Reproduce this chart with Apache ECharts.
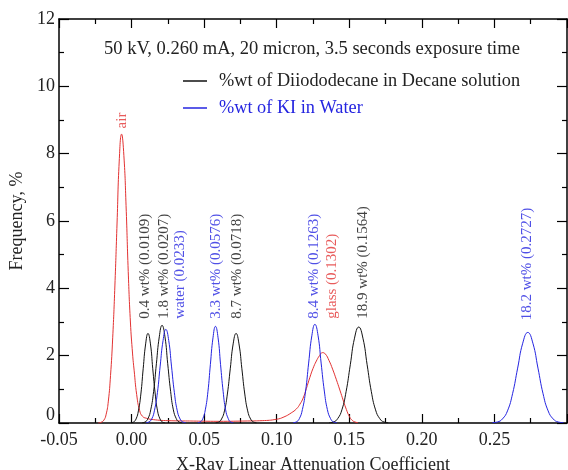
<!DOCTYPE html>
<html>
<head>
<meta charset="utf-8">
<script src="https://cdn.jsdelivr.net/npm/echarts@6/dist/echarts.min.js"></script>
<style>
html,body{margin:0;padding:0;background:#fff;}
#chart{width:568px;height:470px;}
</style>
</head>
<body>
<div id="chart"></div>
<script>
// ---------- data ----------
const xTicksMin = -0.05, xTicksMax = 0.30, xTickStep = 0.05;
const yTicksMin = 0, yTicksMax = 12, yTickStep = 2;

const titleText = '50 kV, 0.260 mA, 20 micron, 3.5 seconds exposure time';
const legendNames = ['%wt of Diiododecane in Decane solution', '%wt of KI in Water'];
const xAxisTitle = 'X-Ray Linear Attenuation Coefficient';
const yAxisTitle = 'Frequency, %';

// red curves
const air = [[-0.0230,0.00],[-0.0210,0.02],[-0.0190,0.09],[-0.0175,0.26],[-0.0160,0.65],[-0.0145,1.41],[-0.0130,2.53],[-0.0115,4.07],[-0.0100,5.94],[-0.0085,7.78],[-0.0069,8.58],[-0.0053,7.94],[-0.0038,6.46],[-0.0023,4.50],[-0.0008,3.00],[0.0007,2.05],[0.0018,1.55],[0.0035,0.85],[0.0055,0.38],[0.0075,0.20],[0.0103,0.14],[0.0150,0.10],[0.0250,0.07],[0.0400,0.06]];
const glass = [[0.0400,0.06],[0.0600,0.05],[0.0800,0.06],[0.0900,0.07],[0.0998,0.11],[0.1050,0.18],[0.1100,0.30],[0.1136,0.42],[0.1160,0.56],[0.1182,0.74],[0.1204,1.02],[0.1228,1.35],[0.1250,1.62],[0.1273,1.84],[0.1295,2.00],[0.1315,2.09],[0.1335,2.05],[0.1360,1.86],[0.1385,1.60],[0.1410,1.30],[0.1435,0.98],[0.1460,0.65],[0.1480,0.40],[0.1500,0.20],[0.1520,0.08],[0.1540,0.03],[0.1560,0.01]];

// black curves: %wt Diiododecane in Decane
const diiodo04 = [[-0.0003,0.01],[0.0014,0.03],[0.0031,0.12],[0.0047,0.36],[0.0064,0.86],[0.0080,1.61],[0.0097,2.35],[0.0113,2.66],[0.0130,2.35],[0.0146,1.61],[0.0163,0.86],[0.0179,0.36],[0.0196,0.12],[0.0212,0.03],[0.0229,0.01]];
const diiodo18 = [[0.0074,0.01],[0.0093,0.03],[0.0113,0.13],[0.0132,0.39],[0.0152,0.94],[0.0171,1.76],[0.0191,2.56],[0.0210,2.90],[0.0230,2.56],[0.0249,1.76],[0.0269,0.94],[0.0288,0.39],[0.0308,0.13],[0.0327,0.03],[0.0347,0.01]];
const diiodo87 = [[0.058,0.01],[0.060,0.03],[0.062,0.12],[0.064,0.36],[0.066,0.86],[0.068,1.61],[0.070,2.35],[0.072,2.66],[0.074,2.35],[0.076,1.61],[0.078,0.86],[0.080,0.36],[0.082,0.12],[0.084,0.03],[0.086,0.01]];
const diiodo189 = [[0.1362,0.01],[0.1391,0.03],[0.1420,0.13],[0.1449,0.39],[0.1478,0.93],[0.1507,1.73],[0.1536,2.52],[0.1565,2.85],[0.1594,2.52],[0.1623,1.73],[0.1652,0.93],[0.1681,0.39],[0.1710,0.13],[0.1739,0.03],[0.1768,0.01]];

// blue curves: %wt KI in Water
const kiWater = [[0.0100,0.01],[0.0119,0.03],[0.0139,0.12],[0.0158,0.38],[0.0178,0.90],[0.0197,1.69],[0.0217,2.45],[0.0236,2.78],[0.0256,2.45],[0.0275,1.69],[0.0295,0.90],[0.0314,0.38],[0.0334,0.12],[0.0353,0.03],[0.0373,0.01]];
const ki33 = [[0.0456,0.01],[0.0473,0.03],[0.0491,0.13],[0.0508,0.39],[0.0526,0.93],[0.0543,1.74],[0.0561,2.53],[0.0578,2.87],[0.0596,2.53],[0.0613,1.74],[0.0631,0.93],[0.0648,0.39],[0.0666,0.13],[0.0683,0.03],[0.0701,0.01]];
const ki84 = [[0.1113,0.01],[0.1134,0.03],[0.1156,0.13],[0.1177,0.40],[0.1199,0.95],[0.1220,1.78],[0.1242,2.59],[0.1263,2.93],[0.1285,2.59],[0.1306,1.78],[0.1328,0.95],[0.1349,0.40],[0.1371,0.13],[0.1392,0.03],[0.1414,0.01]];
const ki182 = [[0.2485,0.01],[0.2520,0.03],[0.2555,0.12],[0.2590,0.36],[0.2625,0.87],[0.2660,1.63],[0.2695,2.37],[0.2730,2.69],[0.2765,2.37],[0.2800,1.63],[0.2835,0.87],[0.2870,0.36],[0.2905,0.12],[0.2940,0.03],[0.2975,0.01]];

// peak annotations (text, anchor in data units, group)
const peakLabels = ['air','0.4 wt% (0.0109)','1.8 wt% (0.0207)','water (0.0233)','3.3 wt% (0.0576)','8.7 wt% (0.0718)','8.4 wt% (0.1263)','glass (0.1302)','18.9 wt% (0.1564)','18.2 wt% (0.2727)'];
const peakLabelX = [-0.0066, 0.0092, 0.0223, 0.0333, 0.0580, 0.0725, 0.1255, 0.1379, 0.1592, 0.2728];
const peakLabelY = [8.75, 3.1, 3.1, 3.1, 3.1, 3.1, 3.1, 3.1, 3.1, 3.05];
const peakLabelGroup = ['red','black','black','blue','blue','black','blue','red','black','blue'];

// ---------- styling ----------
const FONT = "'Liberation Serif','Times New Roman',serif";
const COLORS = {black:'#111111', blue:'#2424e0', red:'#e23232'};
const TEXT = '#222222';

function lineSeries(name, data, color) {
  return {
    type:'line', name:name, data:data, xAxisIndex:0, yAxisIndex:0,
    showSymbol:false, symbol:'none', smooth:true, silent:true,
    lineStyle:{color:color, width:1}, itemStyle:{color:color},
    z:3
  };
}

const series = [
  lineSeries('air', air, COLORS.red),
  lineSeries('glass', glass, COLORS.red),
  lineSeries(legendNames[0], diiodo04, COLORS.black),
  lineSeries(legendNames[0], diiodo18, COLORS.black),
  lineSeries(legendNames[0], diiodo87, COLORS.black),
  lineSeries(legendNames[0], diiodo189, COLORS.black),
  lineSeries(legendNames[1], kiWater, COLORS.blue),
  lineSeries(legendNames[1], ki33, COLORS.blue),
  lineSeries(legendNames[1], ki84, COLORS.blue),
  lineSeries(legendNames[1], ki182, COLORS.blue),
  {
    type:'scatter', name:'peak labels', silent:true, xAxisIndex:0, yAxisIndex:0,
    symbolSize:1, itemStyle:{color:'transparent'},
    data: peakLabels.map((t,i)=>({
      value:[peakLabelX[i], peakLabelY[i]],
      label:{show:true, formatter:t, color:COLORS[peakLabelGroup[i]]}
    })),
    label:{show:true, position:'inside', rotate:90, align:'left', verticalAlign:'middle',
      fontFamily:FONT, fontSize:15},
    z:5
  }
];

const baseX = {
  type:'value', min:xTicksMin, max:xTicksMax, interval:xTickStep,
  axisLine:{show:true, onZero:false, lineStyle:{color:'#000', width:1.5}},
  axisTick:{show:true, inside:true, length:9, lineStyle:{color:'#000', width:1.2}},
  minorTick:{show:true, splitNumber:2, length:5, lineStyle:{color:'#000', width:1.2}},
  splitLine:{show:false}, minorSplitLine:{show:false}
};
const baseY = {
  type:'value', min:yTicksMin, max:yTicksMax, interval:yTickStep,
  axisLine:{show:true, onZero:false, lineStyle:{color:'#000', width:1.5}},
  axisTick:{show:true, inside:true, length:10, lineStyle:{color:'#000', width:1.2}},
  minorTick:{show:true, splitNumber:2, length:5, lineStyle:{color:'#000', width:1.2}},
  splitLine:{show:false}, minorSplitLine:{show:false}
};

const option = {
  animation:false,
  backgroundColor:'#ffffff',
  title:{
    text:titleText, left:104, top:40, padding:0,
    textStyle:{fontFamily:FONT, fontSize:18.5, fontWeight:'normal', color:TEXT}
  },
  legend:{
    orient:'vertical', left:183, top:72, itemGap:9, padding:0,
    itemWidth:24, itemHeight:1.5, icon:'rect', selectedMode:false,
    textStyle:{fontFamily:FONT, fontSize:18.3, padding:[0,0,0,7]},
    data:[
      {name:legendNames[0], textStyle:{color:TEXT}},
      {name:legendNames[1], textStyle:{color:COLORS.blue}}
    ]
  },
  grid:{left:59, right:1, top:19, bottom:47, containLabel:false, outerBoundsMode:'none'},
  xAxis:[
    Object.assign({}, baseX, {
      position:'bottom',
      name:xAxisTitle, nameLocation:'middle', nameGap:33,
      nameTextStyle:{fontFamily:FONT, fontSize:18, color:TEXT},
      axisLabel:{show:true, margin:8, fontFamily:FONT, fontSize:18, color:TEXT,
        showMaxLabel:false, formatter:v=>v.toFixed(2)}
    }),
    Object.assign({}, baseX, {position:'top', axisLabel:{show:false}})
  ],
  yAxis:[
    Object.assign({}, baseY, {
      position:'left',
      name:yAxisTitle, nameLocation:'middle', nameGap:27, nameRotate:90,
      nameTextStyle:{fontFamily:FONT, fontSize:18, color:TEXT},
      axisLabel:{show:true, margin:4, fontFamily:FONT, fontSize:18, color:TEXT,
        formatter:v=> v === 0 ? '{z|0}' : String(v),
        rich:{z:{fontFamily:FONT, fontSize:18, color:TEXT, padding:[0,0,16,0]}}}
    }),
    Object.assign({}, baseY, {position:'right', axisLabel:{show:false}})
  ],
  series:series
};

const chart = echarts.init(document.getElementById('chart'), null, {renderer:'canvas'});
chart.setOption(option);
</script>
</body>
</html>
